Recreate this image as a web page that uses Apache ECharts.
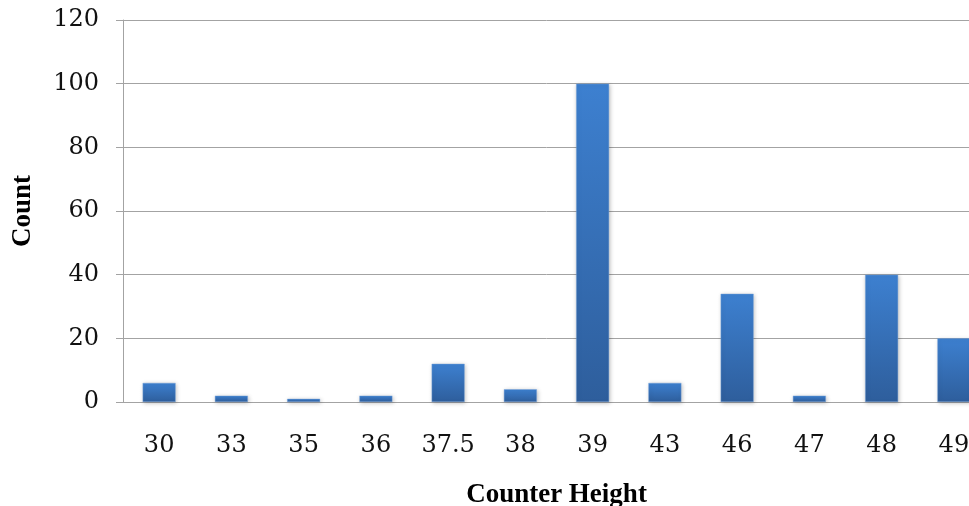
<!DOCTYPE html>
<html>
<head>
<meta charset="utf-8">
<script src="https://cdn.jsdelivr.net/npm/echarts@6/dist/echarts.min.js"></script>
<style>
html,body{margin:0;padding:0;background:#fff;}
#chart{width:969px;height:506px;}
</style>
</head>
<body>
<div id="chart"></div>
<script>
const categories = ['30','33','35','36','37.5','38','39','43','46','47','48','49'];
const counts = [6, 2, 1, 2, 12, 4, 100, 6, 34, 2, 40, 20];
const yTicks = {min: 0, max: 120, interval: 20};

const chart = echarts.init(document.getElementById('chart'), null, {renderer: 'canvas'});
const gridColor = '#a3a3a3';
chart.setOption({
  animation: false,
  backgroundColor: '#ffffff',
  grid: {left: 123, top: 20, width: 867, height: 382, containLabel: false, outerBoundsMode: 'none'},
  xAxis: {
    type: 'category',
    data: categories,
    name: 'Counter Height',
    nameLocation: 'middle',
    nameGap: 80,
    nameTextStyle: {fontFamily: 'Liberation Serif', fontWeight: 'bold', fontSize: 27, color: '#000'},
    axisLine: {show: true, lineStyle: {color: gridColor, width: 1}},
    axisTick: {show: false},
    axisLabel: {fontFamily: 'DejaVu Serif', fontSize: 24, color: '#111', margin: 32}
  },
  yAxis: {
    type: 'value',
    min: yTicks.min, max: yTicks.max, interval: yTicks.interval,
    name: 'Count',
    nameLocation: 'middle',
    nameRotate: 90,
    nameGap: 86,
    nameTextStyle: {fontFamily: 'Liberation Serif', fontWeight: 'bold', fontSize: 27, color: '#000'},
    axisLine: {show: true, lineStyle: {color: gridColor, width: 1}},
    axisTick: {show: true, length: 7, lineStyle: {color: gridColor}},
    splitLine: {show: true, lineStyle: {color: gridColor, width: 1}},
    axisLabel: {fontFamily: 'DejaVu Serif', fontSize: 24, color: '#111', margin: 24}
  },
  series: [{
    type: 'bar',
    data: counts,
    barWidth: 33,
    itemStyle: {
      color: new echarts.graphic.LinearGradient(0, 0, 0, 1, [
        {offset: 0, color: '#3d80d0'},
        {offset: 1, color: '#2e5e9c'}
      ]),
      borderColor: 'rgba(120,165,220,0.8)',
      borderWidth: 0.5,
      shadowBlur: 4,
      shadowColor: 'rgba(0,0,0,0.25)',
      shadowOffsetX: 1,
      shadowOffsetY: 1
    }
  }]
});
</script>
</body>
</html>
